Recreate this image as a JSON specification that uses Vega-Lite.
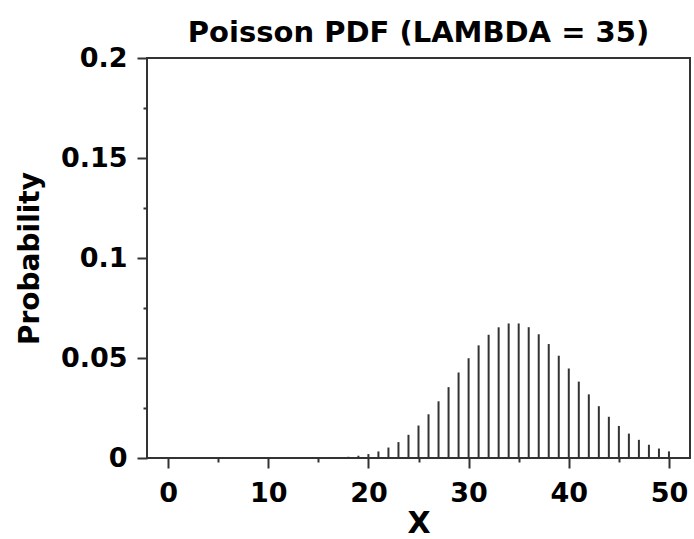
{
  "$schema": "https://vega.github.io/schema/vega-lite/v6.json",
  "width": 543,
  "height": 400,
  "autosize": "none",
  "padding": {"left": 147, "top": 58, "right": 4, "bottom": 81},
  "title": {"text": "Poisson PDF (LAMBDA = 35)", "font": "DejaVu Sans", "fontSize": 29, "fontWeight": "bold", "color": "black", "anchor": "middle", "offset": -4},
  "config": {
    "view": {"stroke": "#333", "strokeWidth": 2},
    "axis": {"domain": false, "grid": false, "tickColor": "#333", "tickWidth": 2, "labelFont": "DejaVu Sans", "labelFontSize": 27, "labelFontWeight": "bold", "labelColor": "black", "titleFont": "DejaVu Sans", "titleFontSize": 28, "titleFontWeight": "bold", "titleColor": "black"}
  },
  "data": {"values": [
    {"x": 0, "p": 0}, {"x": 1, "p": 0}, {"x": 2, "p": 0}, {"x": 3, "p": 0}, {"x": 4, "p": 0},
    {"x": 5, "p": 0}, {"x": 6, "p": 0}, {"x": 7, "p": 0}, {"x": 8, "p": 0}, {"x": 9, "p": 0},
    {"x": 10, "p": 0.0000005}, {"x": 11, "p": 0.0000015}, {"x": 12, "p": 0.0000045}, {"x": 13, "p": 0.000012}, {"x": 14, "p": 0.00003},
    {"x": 15, "p": 0.00007}, {"x": 16, "p": 0.000153}, {"x": 17, "p": 0.000315}, {"x": 18, "p": 0.000612}, {"x": 19, "p": 0.001127},
    {"x": 20, "p": 0.001972}, {"x": 21, "p": 0.003286}, {"x": 22, "p": 0.005228}, {"x": 23, "p": 0.007955}, {"x": 24, "p": 0.0116},
    {"x": 25, "p": 0.01624}, {"x": 26, "p": 0.02186}, {"x": 27, "p": 0.02834}, {"x": 28, "p": 0.03543}, {"x": 29, "p": 0.04276},
    {"x": 30, "p": 0.04989}, {"x": 31, "p": 0.05633}, {"x": 32, "p": 0.06161}, {"x": 33, "p": 0.06535}, {"x": 34, "p": 0.06727},
    {"x": 35, "p": 0.06727}, {"x": 36, "p": 0.0654}, {"x": 37, "p": 0.06187}, {"x": 38, "p": 0.05698}, {"x": 39, "p": 0.05114},
    {"x": 40, "p": 0.04475}, {"x": 41, "p": 0.0382}, {"x": 42, "p": 0.03183}, {"x": 43, "p": 0.02591}, {"x": 44, "p": 0.02061},
    {"x": 45, "p": 0.01603}, {"x": 46, "p": 0.0122}, {"x": 47, "p": 0.009083}, {"x": 48, "p": 0.006623}, {"x": 49, "p": 0.004731},
    {"x": 50, "p": 0.003312}
  ]},
  "mark": {"type": "rule", "color": "#333", "strokeWidth": 2},
  "encoding": {
    "x": {
      "field": "x", "type": "quantitative",
      "scale": {"domain": [-2.1, 52.1], "nice": false, "zero": false},
      "axis": {
        "values": [0, 5, 10, 15, 20, 25, 30, 35, 40, 45, 50],
        "labelExpr": "datum.value % 10 === 0 ? datum.label : ''",
        "tickSize": {"condition": {"test": "datum.value % 10 === 0", "value": 10}, "value": 4},
        "labelPadding": 12,
        "title": "X",
        "titleFontSize": 30,
        "titlePadding": 2
      }
    },
    "y": {
      "field": "p", "type": "quantitative",
      "scale": {"domain": [0, 0.2], "nice": false},
      "axis": {
        "values": [0, 0.025, 0.05, 0.075, 0.1, 0.125, 0.15, 0.175, 0.2],
        "labelExpr": "(round(datum.value * 1000) % 50 === 0) ? format(datum.value, '~g') : ''",
        "tickSize": {"condition": {"test": "round(datum.value * 1000) % 50 === 0", "value": 10}, "value": 4},
        "labelPadding": 10,
        "title": "Probability",
        "titlePadding": 16
      }
    },
    "y2": {"datum": 0}
  }
}
